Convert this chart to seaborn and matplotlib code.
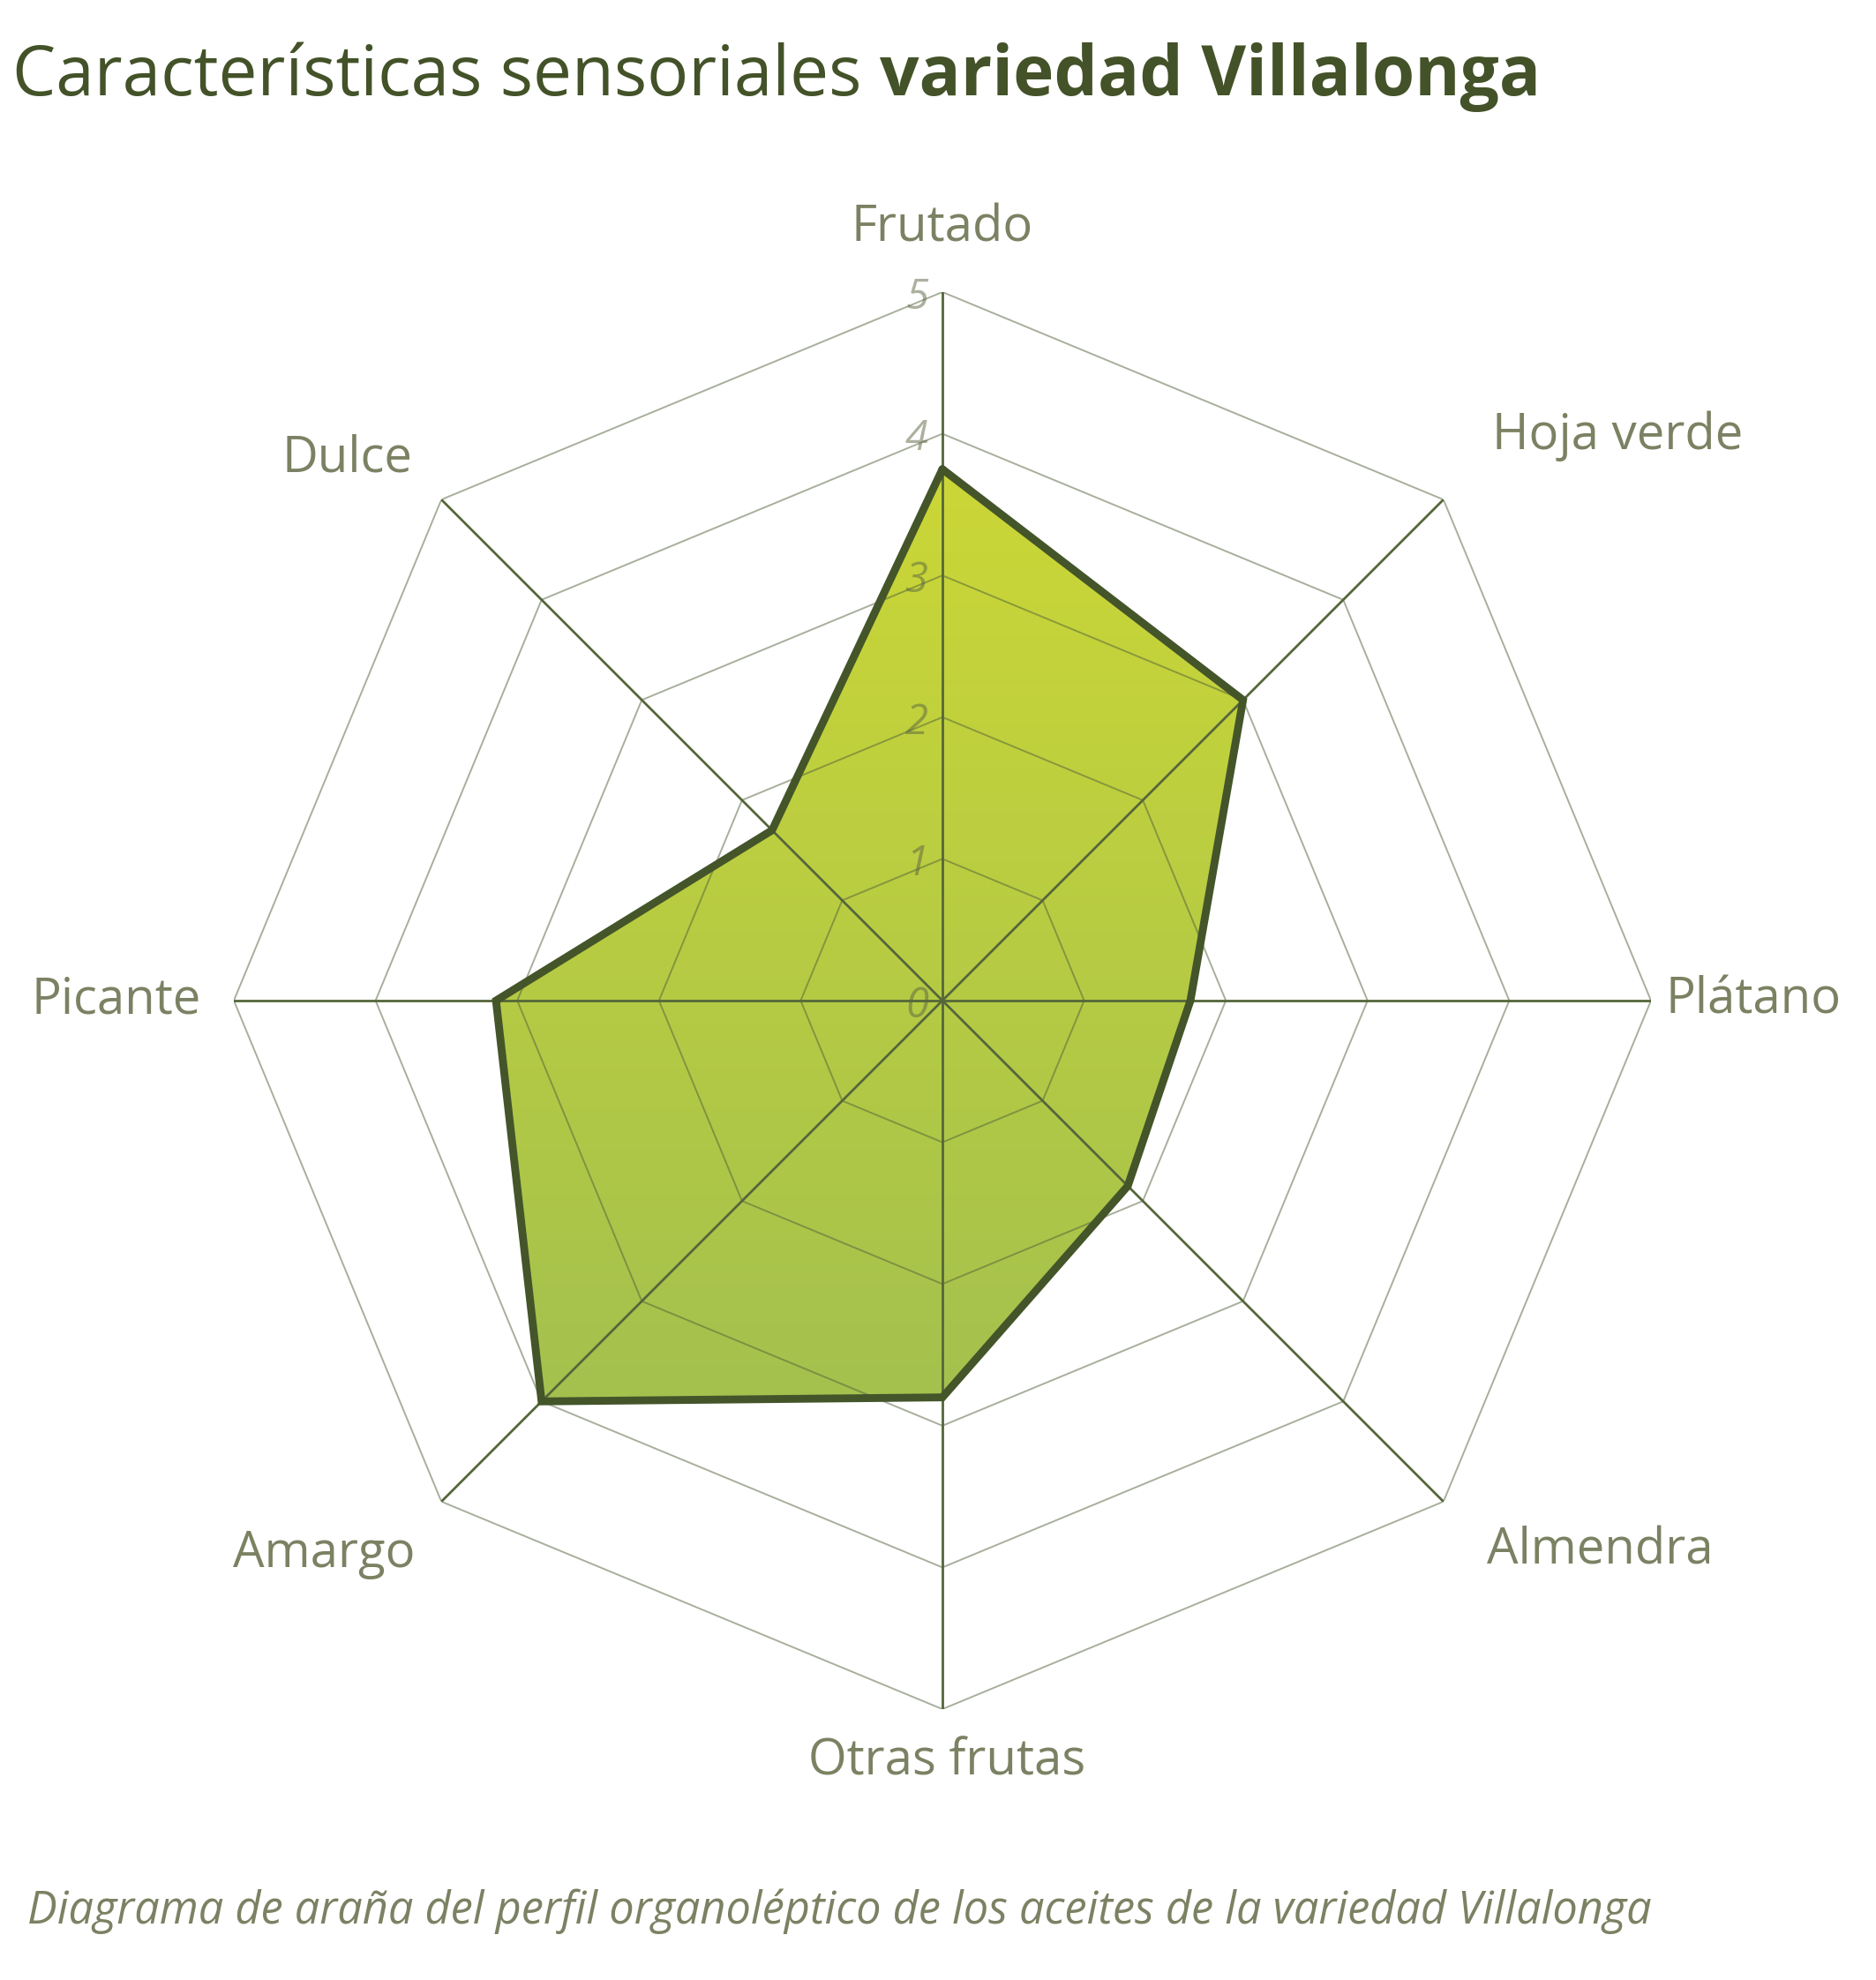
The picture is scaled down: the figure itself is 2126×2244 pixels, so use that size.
import numpy as np
import matplotlib
matplotlib.use('Agg')
import matplotlib.pyplot as plt
import seaborn as sns
import pandas as pd
from matplotlib.colors import LinearSegmentedColormap

# ---------------- data ----------------
categories = ['Frutado', 'Hoja verde', 'Plátano', 'Almendra',
              'Otras frutas', 'Amargo', 'Picante', 'Dulce']
values = [3.75, 3.0, 1.75, 1.85, 2.8, 4.0, 3.15, 1.7]
tick_levels = [0, 1, 2, 3, 4, 5]
tick_labels = ['0', '1', '2', '3', '4', '5']
title_regular = 'Características sensoriales '
title_bold = 'variedad Villalonga'
subtitle = ('Diagrama de araña del perfil organoléptico de los aceites '
            'de la variedad Villalonga')

# ---------------- style ----------------
sns.set_theme(style='white')
plt.rcParams['font.family'] = ['Open Sans', 'DejaVu Sans']

TITLE_C = '#435228'
LABEL_C = '#7b8263'
SPOKE_C = '#55663a'
RING_C = '#50603a'
OUTLINE_C = '#44552a'

W, H = 2126, 2244
fig = plt.figure(figsize=(W / 100, H / 100), dpi=100)
fig.patch.set_facecolor('white')

cx, cy, R = 1068, 1134, 803
rect = [(cx - R) / W, 1 - (cy + R) / H, 2 * R / W, 2 * R / H]

ax_img = fig.add_axes(rect, zorder=0)
ax_img.set_axis_off()
ax = fig.add_axes(rect, projection='polar', zorder=1)
ax.set_facecolor('none')
ax.set_theta_zero_location('N')
ax.set_theta_direction(-1)
ax.grid(False)
ax.spines['polar'].set_visible(False)

n = len(categories)
theta = np.linspace(0, 2 * np.pi, n, endpoint=False)
theta_c = np.append(theta, 2 * np.pi)

# fill polygon (used as clip path for gradient)
poly = ax.fill(theta, values, facecolor='none', edgecolor='none')[0]

# gradient
cmap = LinearSegmentedColormap.from_list('g', ['#d3db32', '#97ba56'])
grad = np.linspace(0, 1, 512).reshape(-1, 1)
im = ax_img.imshow(grad, aspect='auto', extent=[0, 1, 0, 1], cmap=cmap,
                   origin='upper')
ax_img.set_xlim(0, 1)
ax_img.set_ylim(0, 1)
im.set_clip_path(poly)

# rings
for lvl in tick_levels[1:]:
    ax.plot(theta_c, [lvl] * (n + 1), color=RING_C, alpha=0.5, lw=1.4, zorder=2)
# spokes
for t in theta:
    ax.plot([t, t], [0, tick_levels[-1]], color=SPOKE_C, lw=2.0, zorder=3)

# outline via seaborn
df = pd.DataFrame({'theta': theta_c, 'value': values + [values[0]]})
sns.lineplot(data=df, x='theta', y='value', sort=False, ax=ax,
             color=OUTLINE_C, lw=6.4, solid_joinstyle='miter', zorder=5)
ax.set_xlabel('')
ax.set_ylabel('')
ax.set_ylim(0, tick_levels[-1])
ax.set_xticks([])
ax.set_yticks([])

# ring value labels
for lvl, lab in zip(tick_levels, tick_labels):
    ax.annotate(lab, xy=(0, lvl), xytext=(-16, -6), textcoords='offset pixels',
                ha='right', va='center', fontstyle='italic', fontsize=34,
                color='#5a6440', alpha=0.5, zorder=6, annotation_clip=False)

# category labels: (r, ha, dx px, dy px)
label_specs = [
    (5.45, 'center', 0, 0),
    (5.6, 'left', -13, 4),
    (5.1, 'left', 0, 0),
    (5.45, 'left', -2, -5),
    (5.33, 'center', 5, -7),
    (5.3, 'right', 4, -26),
    (5.24, 'right', 1, 0),
    (5.32, 'right', 4, 10),
]
for t, lab, (r, ha, dx, dy) in zip(theta, categories, label_specs):
    ax.annotate(lab, xy=(t, r), xytext=(dx, dy), textcoords='offset pixels',
                ha=ha, va='center', fontsize=40.5, color=LABEL_C,
                annotation_clip=False)

# title
t1 = fig.text(14 / W, 1 - 108 / H, title_regular, fontsize=56.3, color=TITLE_C,
              va='baseline', ha='left')
fig.canvas.draw()
bb = t1.get_window_extent(renderer=fig.canvas.get_renderer())
fig.text(bb.x1 / W, 1 - 108 / H, title_bold, fontsize=56.3, color=TITLE_C,
         fontweight='bold', va='baseline', ha='left')

# subtitle
fig.text(31 / W, 1 - 2180 / H, subtitle, fontsize=36.4, color=LABEL_C,
         fontstyle='italic', va='baseline', ha='left')

fig.savefig('out.png', dpi=100, facecolor='white')
